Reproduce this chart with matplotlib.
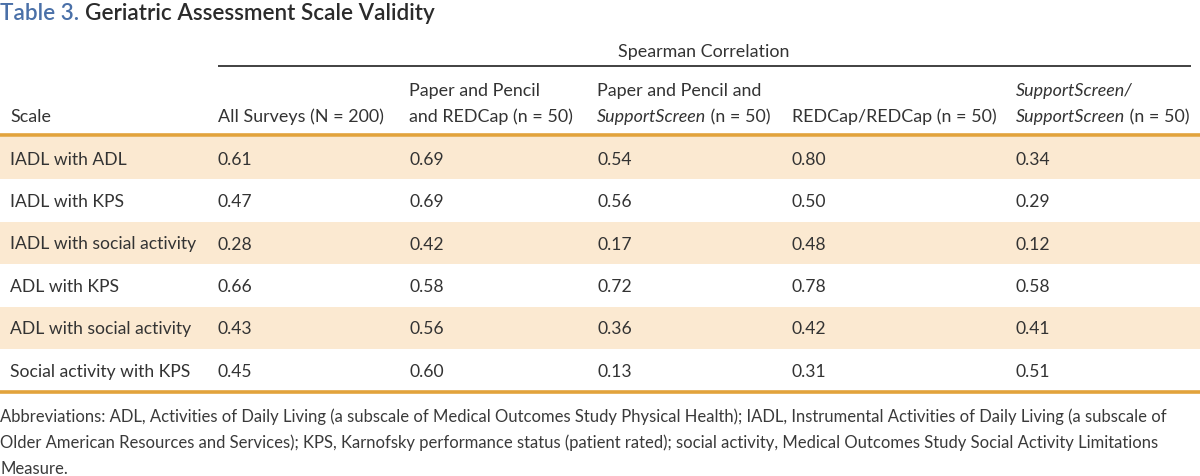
import matplotlib
matplotlib.use("Agg")
import matplotlib.pyplot as plt
from matplotlib.patches import Rectangle

# ---- data ----
title_num = "Table 3."
title_text = "Geriatric Assessment Scale Validity"
group_header = "Spearman Correlation"
scales = ["IADL with ADL", "IADL with KPS", "IADL with social activity",
          "ADL with KPS", "ADL with social activity", "Social activity with KPS"]
all_surveys = ["0.61", "0.47", "0.28", "0.66", "0.43", "0.45"]
paper_redcap = ["0.69", "0.69", "0.42", "0.58", "0.56", "0.60"]
paper_support = ["0.54", "0.56", "0.17", "0.72", "0.36", "0.13"]
redcap_redcap = ["0.80", "0.50", "0.48", "0.78", "0.42", "0.31"]
support_support = ["0.34", "0.29", "0.12", "0.58", "0.41", "0.51"]
footnote_lines = [
    "Abbreviations: ADL, Activities of Daily Living (a subscale of Medical Outcomes Study Physical Health); IADL, Instrumental Activities of Daily Living (a subscale of",
    "Older American Resources and Services); KPS, Karnofsky performance status (patient rated); social activity, Medical Outcomes Study Social Activity Limitations",
    "Measure.",
]

columns = [scales, all_surveys, paper_redcap, paper_support, redcap_redcap, support_support]
# header cells: list of lines, each line a list of (text, italic) segments
headers = [
    [[("Scale", False)]],
    [[("All Surveys (N = 200)", False)]],
    [[("Paper and Pencil", False)], [("and REDCap (n = 50)", False)]],
    [[("Paper and Pencil and", False)], [("SupportScreen", True), (" (n = 50)", False)]],
    [[("REDCap/REDCap (n = 50)", False)]],
    [[("SupportScreen/", True)], [("SupportScreen", True), (" (n = 50)", False)]],
]

# ---- layout ----
W, H = 1200, 476
fig = plt.figure(figsize=(W / 100, H / 100), dpi=100)
ax = fig.add_axes([0, 0, 1, 1])
ax.set_xlim(0, W)
ax.set_ylim(H, 0)
ax.axis("off")

FONT = ["Lato", "DejaVu Sans"]
TXT = "#333333"
BLUE = "#4a70a8"
ORANGE = "#e2a33c"
SHADE = "#fbe9d1"
fs_body = 12.6
fs_head = 12.9

col_x = [10, 218, 409, 597, 792, 1016]
row_top = 137.0
row_h = 42.4

fig.canvas.draw()
renderer = fig.canvas.get_renderer()

def put_segments(x, y, segments, fs, color=TXT, weight="normal"):
    cx = x
    for text, italic in segments:
        t = ax.text(cx, y, text, fontsize=fs, family=FONT, color=color,
                    style="italic" if italic else "normal", weight=weight,
                    va="center", ha="left")
        bb = t.get_window_extent(renderer=renderer)
        cx += bb.width

# title
t = ax.text(0, 13, title_num, fontsize=16.2, family=FONT, color=BLUE,
            weight="semibold", va="center", ha="left")
bb = t.get_window_extent(renderer=renderer)
ax.text(bb.width + 6, 13, title_text, fontsize=16.2, family=FONT, color="#2b2b2b",
        weight="semibold", va="center", ha="left")

# group header
ax.text(704, 52, group_header, fontsize=fs_head, family=FONT, color=TXT,
        va="center", ha="center")
ax.plot([218, 1191], [66, 66], color="#333333", lw=1.3, solid_capstyle="butt")

# column headers
for x, lines in zip(col_x, headers):
    if len(lines) == 1:
        put_segments(x, 117, lines[0], fs_head)
    else:
        put_segments(x, 91, lines[0], fs_head)
        put_segments(x, 117, lines[1], fs_head)

# shaded rows
n = len(scales)
for i in range(n):
    if i % 2 == 0:
        ax.add_patch(Rectangle((0, row_top + i * row_h), W, row_h,
                               facecolor=SHADE, edgecolor="none", zorder=0))

# body
for i in range(n):
    y = row_top + i * row_h + row_h / 2 + 1.5
    for x, col in zip(col_x, columns):
        ax.text(x, y, col[i], fontsize=fs_body, family=FONT, color=TXT,
                va="center", ha="left")

# rules
ax.plot([0, W], [135, 135], color=ORANGE, lw=2.6, solid_capstyle="butt")
ax.plot([0, W], [row_top + n * row_h + 1, row_top + n * row_h + 1],
        color=ORANGE, lw=2.6, solid_capstyle="butt")

# footnote
for j, line in enumerate(footnote_lines):
    ax.text(0, 417 + j * 26, line, fontsize=11.95,
            family=FONT, color="#3a3a3a", va="center", ha="left")

fig.savefig("out.png", dpi=100, facecolor="white")
